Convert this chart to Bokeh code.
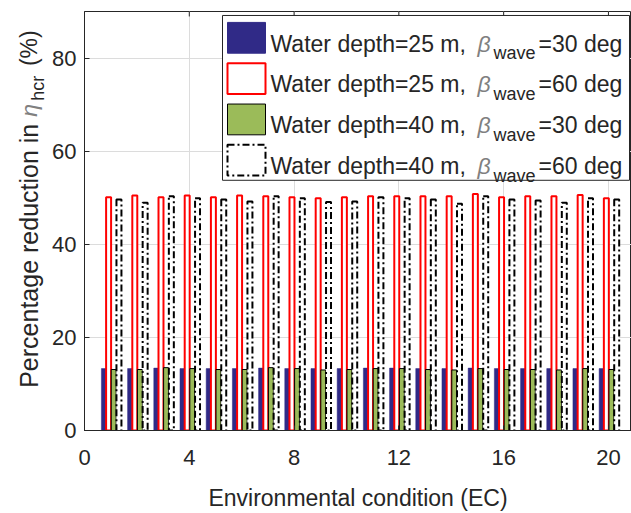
import math
from bokeh.plotting import figure
from bokeh.models import Range1d, FixedTicker, Label, ColumnDataSource
from bokeh.core.properties import value
from bokeh.transform import dodge
from bokeh.layouts import row
from bokeh.embed import file_html
from bokeh.resources import INLINE

# ---------------- data ----------------
ec = list(range(1, 21))
depth25_beta30 = [13.3, 13.3, 13.4, 13.3, 13.3, 13.3, 13.4, 13.3, 13.3, 13.3,
                  13.4, 13.4, 13.3, 13.3, 13.4, 13.3, 13.3, 13.3, 13.3, 13.3]
depth25_beta60 = [50.1, 50.5, 50.1, 50.5, 50.1, 50.5, 50.3, 50.1, 49.9, 50.1,
                  50.3, 50.3, 50.3, 50.3, 50.8, 50.1, 50.3, 50.3, 50.6, 49.9]
depth40_beta30 = [13.1, 13.1, 13.5, 13.3, 13.1, 13.1, 13.5, 13.3, 13.0, 13.1,
                  13.3, 13.3, 13.1, 13.0, 13.3, 13.1, 13.1, 13.0, 13.3, 13.1]
depth40_beta60 = [49.6, 48.9, 50.3, 49.9, 49.6, 49.2, 50.3, 49.9, 49.1, 49.2,
                  50.1, 49.9, 49.6, 48.7, 50.3, 49.6, 49.4, 48.9, 49.9, 49.6]
x_ticks = [0, 4, 8, 12, 16, 20]
y_ticks = [0, 20, 40, 60, 80]
legend_depths = ["25", "25", "40", "40"]
legend_betas = ["30", "60", "30", "60"]

# ---------------- geometry (page pixels) ----------------
PW, PH = 631, 513
LW = 48                  # width of the strip holding the y label
X0, X1 = 0.0, 20.88
Y0, Y1 = 0.0, 90.0
FX0, FX1 = 84.0, 631.0   # frame left/right
FY0, FY1 = 11.0, 433.0   # frame top/bottom


def xd(px):
    return X0 + (px - FX0) * (X1 - X0) / (FX1 - FX0)


def yd(py):
    return Y0 + (FY1 - py) * (Y1 - Y0) / (FY1 - FY0)


FONT = "Liberation Sans"
TXT = "#262626"
SYM = "#808080"
BLUE = "#302A87"
GREEN = "#9BBB59"
RED = "#FF0000"
DASH = "7 3 2 3"

p = figure(width=PW - LW, height=PH, x_range=Range1d(X0, X1), y_range=Range1d(Y0, Y1),
           output_backend="svg", toolbar_location=None,
           min_border_left=int(FX0) - LW, min_border_right=0,
           min_border_top=int(FY0), min_border_bottom=PH - int(FY1))
p.background_fill_color = "white"
p.border_fill_color = "white"
p.outline_line_color = TXT
p.outline_line_width = 1

for ax in (p.xaxis[0], p.yaxis[0]):
    ax.major_tick_in = 5
    ax.major_tick_out = 0
    ax.minor_tick_line_color = None
    ax.axis_line_color = TXT
    ax.major_tick_line_color = TXT
    ax.major_label_text_color = TXT
    ax.major_label_text_font = FONT
    ax.major_label_text_font_size = "22px"

p.xaxis.ticker = FixedTicker(ticks=x_ticks)
p.yaxis.ticker = FixedTicker(ticks=y_ticks)
p.xaxis.major_label_standoff = 19
p.yaxis.major_label_standoff = 8
p.xaxis.axis_label = "Environmental condition (EC)"
p.xaxis.axis_label_text_font = FONT
p.xaxis.axis_label_text_font_size = "23px"
p.xaxis.axis_label_text_font_style = "normal"
p.xaxis.axis_label_text_color = TXT
p.xaxis.axis_label_standoff = 17

p.xgrid.ticker = FixedTicker(ticks=x_ticks)
p.ygrid.ticker = FixedTicker(ticks=y_ticks)
for g in (p.xgrid[0], p.ygrid[0]):
    g.grid_line_color = "#dcdcdc"
    g.grid_line_width = 1

# inward tick marks on the top edge of the box
tick_len = 5 * (Y1 - Y0) / (FY1 - FY0)
p.segment(x0=x_ticks, y0=[Y1] * len(x_ticks), x1=x_ticks, y1=[Y1 - tick_len] * len(x_ticks),
          line_color=TXT, line_width=1)

src = ColumnDataSource(dict(ec=ec, b25_30=depth25_beta30, b25_60=depth25_beta60,
                            b40_30=depth40_beta30, b40_60=depth40_beta60))
BW = 0.19
p.vbar(x=dodge("ec", -0.26, range=p.x_range), top="b25_30", width=BW, source=src,
       fill_color=BLUE, line_color=BLUE, line_width=0.5)
p.vbar(x=dodge("ec", -0.08, range=p.x_range), top="b25_60", width=BW, source=src,
       fill_color="white", line_color=RED, line_width=2)
p.vbar(x=dodge("ec", 0.115, range=p.x_range), top="b40_30", width=BW, source=src,
       fill_color=GREEN, line_color="black", line_width=1)
p.vbar(x=dodge("ec", 0.315, range=p.x_range), top="b40_60", width=BW, source=src,
       fill_color="white", line_color="black", line_width=2, line_dash=DASH)

# ---------------- legend (built by hand for sub/italic text) ----------------
p.quad(left=[xd(222)], right=[xd(629)], top=[yd(15)], bottom=[yd(181)],
       fill_color="white", line_color=TXT, line_width=1)
row_gap = 41.1
styles = [dict(fill_color=BLUE, line_color=BLUE, line_width=1, line_dash="solid"),
          dict(fill_color="white", line_color=RED, line_width=2, line_dash="solid"),
          dict(fill_color=GREEN, line_color="black", line_width=1, line_dash="solid"),
          dict(fill_color="white", line_color="black", line_width=2, line_dash=DASH)]
common = dict(x_units="data", y_units="data", text_font=FONT, text_baseline="alphabetic",
              text_align="left")
for i, (dep, bet) in enumerate(zip(legend_depths, legend_betas)):
    cy = 37.5 + i * row_gap
    base = 43.3 + i * row_gap
    p.quad(left=[xd(227)], right=[xd(265)], top=[yd(cy - 15.5)], bottom=[yd(cy + 15.5)],
           **styles[i])
    p.add_layout(Label(x=xd(270), y=yd(base), text=f"Water depth={dep} m,",
                       text_font_size="23px", text_color=TXT, **common))
    p.add_layout(Label(x=xd(477), y=yd(base), text="β", text_font_style="italic",
                       text_font_size="23px", text_color=SYM, **common))
    p.add_layout(Label(x=xd(493), y=yd(base + 10), text="wave",
                       text_font_size="18px", text_color=TXT, **common))
    p.add_layout(Label(x=xd(538), y=yd(base), text=f"={bet} deg",
                       text_font_size="23px", text_color=TXT, **common))

# ---------------- y axis label strip (rotated text with italic symbol and subscript) ----------------
# the row layout aligns this strip's frame with the main frame (page y 11..433),
# so its y range is chosen so that data y = PH - page y
lab = figure(width=LW, height=PH, x_range=Range1d(0, LW), y_range=Range1d(PH - FY1, PH - FY0),
             output_backend="svg", toolbar_location=None,
             min_border_left=0, min_border_right=0, min_border_top=0, min_border_bottom=0)
lab.axis.visible = False
lab.grid.visible = False
lab.outline_line_color = None
lab.background_fill_color = "white"
lab.border_fill_color = "white"

ylab_parts = ["Percentage reduction in", "η", "hcr", "(%)"]
ylab_x = [28.5, 28.5, 37.0, 28.5]          # baseline x (page px)
ylab_y = [390, 117, 101, 66]               # start y (page px)
ylab_size = ["25px", "23px", "18px", "23px"]
ylab_style = ["normal", "italic", "normal", "normal"]
ylab_color = [TXT, SYM, TXT, TXT]
for t, x, y, s, st, c in zip(ylab_parts, ylab_x, ylab_y, ylab_size, ylab_style, ylab_color):
    lab.text(x=[x], y=[PH - y], text=[t], angle=math.pi / 2, text_font=value(FONT),
             text_font_size=s, text_font_style=st, text_color=c,
             text_align="left", text_baseline="alphabetic")

layout = row(lab, p)
open("out.html", "w").write(file_html(layout, INLINE))
